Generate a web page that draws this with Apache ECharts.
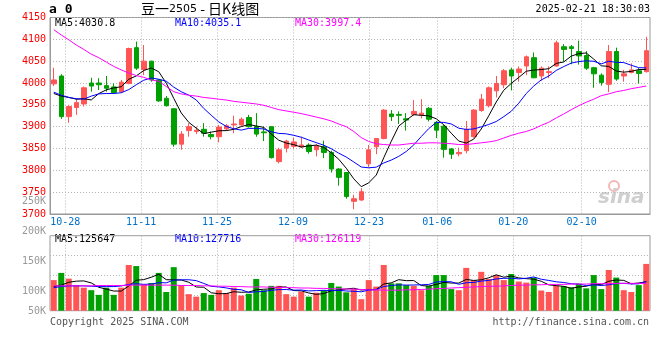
<!DOCTYPE html>
<html><head><meta charset="utf-8">
<script src="https://cdn.jsdelivr.net/npm/echarts@6/dist/echarts.min.js"></script>
<style>html,body{margin:0;padding:0;background:#fff}#c{width:660px;height:360px}</style>
</head><body><div id="c"></div>
<script>
const dates = ['10-24','10-25','10-28','10-29','10-30','10-31','11-01','11-04','11-05','11-06','11-07','11-08','11-11','11-12','11-13','11-14','11-15','11-18','11-19','11-20','11-21','11-22','11-25','11-26','11-27','11-28','11-29','12-02','12-03','12-04','12-05','12-06','12-09','12-10','12-11','12-12','12-13','12-16','12-17','12-18','12-19','12-20','12-23','12-24','12-25','12-26','12-27','12-30','12-31','01-02','01-03','01-06','01-07','01-08','01-09','01-10','01-13','01-14','01-15','01-16','01-17','01-20','01-21','01-22','01-23','01-24','01-27','02-05','02-06','02-07','02-10','02-11','02-12','02-13','02-14','02-17','02-18','02-19','02-20','02-21'];
const labelDates = ['10-28','11-11','11-25','12-09','12-23','01-06','01-20','02-10'];

const opens = [3998,4016,3923,3944,3952,4000,4000,3994,3991,3980, 3999,4081,4031,4050,4007,3965,3941,3860,3891,3889, 3894,3882,3877,3895,3904,3904,3921,3900,3888,3900, 3820,3851,3855,3854,3858,3847,3854,3841,3803,3795, 3729,3732,3815,3854,3873,3929,3928,3918,3928,3927, 3942,3910,3901,3849,3838,3845,3877,3937,3948,3982, 3996,4030,4024,4039,4058,4016,4024,4039,4083,4083, 4072,4063,4035,4018,3997,4072,4016,4024,4028,4026];
const closes = [4007,3923,3946,3955,3989,3993,3996,3988,3978,4002, 4079,4034,4050,4007,3959,3948,3860,3883,3900,3892, 3885,3877,3899,3902,3906,3917,3900,3883,3886,3829, 3847,3867,3865,3858,3843,3856,3841,3803,3784,3740, 3735,3751,3847,3873,3938,3923,3926,3915,3935,3931, 3917,3892,3848,3837,3841,3894,3938,3963,3989,3999, 4028,4016,4032,4060,4012,4034,4026,4092,4077,4079, 4062,4034,4021,4001,4072,4009,4021,4030,4022,4074];
const lows = [3993,3918,3909,3927,3946,3980,3984,3980,3976,3977, 3997,4030,4018,4003,3957,3946,3854,3847,3877,3883, 3877,3871,3864,3890,3885,3902,3898,3877,3867,3827, 3816,3841,3850,3851,3838,3832,3828,3795,3765,3735, 3711,3730,3807,3837,3871,3913,3906,3891,3925,3919, 3912,3874,3829,3826,3832,3839,3875,3934,3944,3967, 3988,3983,4003,4018,4011,4005,4011,4037,4049,4043, 4042,4030,3989,3994,3979,4005,4003,4022,3999,4024];
const highs = [4035,4020,3950,3965,3992,4012,4011,4016,3999,4007, 4081,4095,4087,4051,4009,3970,3942,3890,3908,3900, 3908,3889,3904,3906,3925,3921,3927,3931,3900,3901, 3852,3870,3875,3877,3862,3860,3868,3845,3805,3796, 3744,3759,3858,3874,3940,3938,3935,3931,3961,3963, 3945,3913,3904,3851,3852,3913,3940,3975,3992,4016, 4032,4035,4038,4063,4070,4038,4038,4097,4089,4087, 4097,4073,4037,4022,4087,4081,4030,4045,4034,4106];

const ma5 = [3976,3970,3967,3963,3964.0,3961.2,3975.8,3984.2,3988.8,3991.4, 4008.6,4016.2,4028.6,4034.4,4025.8,3999.6,3964.8,3931.4,3910.0,3896.6, 3884.0,3887.4,3890.6,3891.0,3893.8,3900.2,3904.8,3901.6,3898.4,3883.0, 3869.0,3862.4,3858.8,3853.2,3856.0,3857.8,3852.6,3840.2,3825.4,3804.8, 3780.6,3762.6,3771.4,3789.2,3828.8,3866.4,3901.4,3915.0,3927.4,3926.0, 3924.8,3918.0,3904.6,3885.0,3867.0,3862.4,3871.6,3894.6,3925.0,3956.6, 3983.4,3999.0,4012.8,4027.0,4029.6,4030.8,4032.8,4044.8,4048.2,4061.6, 4067.2,4068.8,4054.6,4039.4,4038.0,4027.4,4024.8,4026.6,4030.8,4031.2];
const ma10 = [3979,3972,3967,3964,3963,3970,3975,3976,3976,3977.7, 3984.9,3996.0,4006.4,4011.6,4008.6,4004.1,3990.5,3980.0,3972.2,3961.2, 3941.8,3926.1,3911.0,3900.5,3895.2,3892.1,3896.1,3896.1,3894.7,3888.4, 3884.6,3883.6,3880.2,3875.8,3869.5,3863.4,3857.5,3849.5,3839.3,3830.4, 3819.2,3807.6,3805.8,3807.3,3816.8,3823.5,3832.0,3843.2,3858.3,3877.4, 3895.6,3909.7,3909.8,3906.2,3896.5,3893.6,3894.8,3899.6,3905.0,3911.8, 3922.9,3935.3,3953.7,3976.0,3993.1,4007.1,4015.9,4028.8,4037.6,4045.6, 4049.0,4050.8,4049.7,4043.8,4049.8,4047.3,4046.8,4040.6,4035.1,4034.6];
const ma30 = [4122,4110,4099,4087,4077,4066,4058,4048,4038,4030, 4023,4017,4013,4007,4004,3992,3980,3975,3972,3970, 3967,3965,3963,3961,3958,3956,3954,3952,3949,3944, 3939,3936,3933,3930,3926,3922,3918,3913,3906,3900, 3889,3875,3866,3861,3859,3858,3858,3860,3862,3862, 3863,3863,3862,3861,3859,3859,3861,3863,3865,3868, 3874,3880,3885,3889,3895,3903,3910,3920,3929,3939, 3948,3956,3963,3971,3975,3980,3983,3987,3990,3993];

const volumesK = [135,155,139,121,114,107,94,114,94,114, 177,174,123,127,155,102,171,121,96,89, 99,94,107,99,114,92,97,138,107,119, 119,96,89,103,89,100,107,127,117,101, 110,82,135,117,177,126,126,121,119,107, 119,149,149,110,107,169,135,158,138,149, 135,152,131,128,142,106,102,120,118,115, 125,112,149,110,163,142,107,102,121,180];
const volMa5K = [117,121,129,132,132.8,127.2,115.0,110.0,104.6,104.6, 118.6,134.6,136.4,143.0,151.2,136.2,135.6,135.2,129.0,115.8, 115.2,99.8,97.0,97.6,102.6,101.2,101.8,108.0,109.6,110.6, 116.0,115.8,106.0,105.2,99.2,95.4,97.6,105.2,108.0,110.4, 112.4,107.4,109.0,109.0,124.2,127.4,136.2,133.4,133.8,119.8, 118.4,123.0,128.6,126.8,126.8,136.8,134.0,135.8,141.4,149.8, 143.0,146.4,141.0,139.0,137.6,131.8,121.8,119.6,117.6,112.2, 116.0,118.0,123.8,122.2,131.8,135.2,134.2,124.8,127.0,130.4];
const volMa10K = [114,117,119,119,119,118,117,117,117,118.7, 122.9,124.8,123.2,123.8,127.9,127.4,135.1,135.8,136.0,133.5, 125.7,117.7,116.1,113.3,109.2,108.2,100.8,102.5,103.6,106.6, 108.6,108.8,107.0,107.4,104.9,105.7,106.7,105.6,106.6,104.8, 103.9,102.5,107.1,108.5,117.3,119.9,121.8,121.2,121.4,122.0, 122.9,129.6,131.0,130.3,123.3,127.6,128.5,132.2,134.1,138.3, 139.9,140.2,138.4,140.2,143.7,137.4,134.1,130.3,128.3,124.9, 123.9,119.9,121.7,119.9,122.0,125.6,126.1,124.3,124.6,131.1];
const volMa30K = [119,119,119,119,119,119,120,120,120,120, 121,121,121,121,121,121,121,120,120,120, 119,119,118,118,117,117,116,116,116,115, 115,114,114,113,113,112,112,111,111,110, 110,109,108,108,107,107,107,108,108,109, 110,111,112,113,114,115,116,117,118,118, 119,120,121,121,122,122,123,123,123,124, 124,124,125,125,125,126,126,126,126,126];

const priceLegend = ['MA5:4030.8','MA10:4035.1','MA30:3997.4'];
const volLegend = ['MA5:125647','MA10:127716','MA30:126119'];
const titleParts = ['豆一','2505',' - 日K线图'];
const timeText = '2025-02-21 18:30:03';

const UP = '#ff5555', DOWN = '#00a000';
const mono = '"DejaVu Sans Mono", monospace';
const dotted = {color:'#b4b4b4', type:[1,2], width:1};
const pickDate = (i, v) => labelDates.indexOf(v) >= 0;

const chart = echarts.init(document.getElementById('c'), null, {renderer:'canvas'});
const candleData = dates.map((d,i)=>[opens[i],closes[i],lows[i],highs[i]]);
const volData = volumesK.map((v,i)=>({value:v, itemStyle:{color: closes[i] >= opens[i] ? UP : DOWN}}));

const legendText = (arr, top) => [
  {type:'text', left:55, top:top, style:{text:arr[0], font:'10px '+mono, fill:'#000'}},
  {type:'text', left:175, top:top, style:{text:arr[1], font:'10px '+mono, fill:'#0000ff'}},
  {type:'text', left:295, top:top, style:{text:arr[2], font:'10px '+mono, fill:'#ff00ff'}}
];

chart.setOption({
  animation:false,
  backgroundColor:'#fff',
  grid:[
    {left:50, right:10, top:17.5, height:196.5, show:true, borderColor:'#999', borderWidth:1},
    {left:50, right:10, top:235.7, height:75, show:true, borderColor:'#999', borderWidth:1},
    {left:50, right:10, top:201, height:120, show:false}
  ],
  xAxis:[
    {gridIndex:0, type:'category', data:dates, boundaryGap:true, show:false, position:'bottom'},
    {gridIndex:0, type:'category', data:dates, boundaryGap:false, position:'bottom',
      axisLine:{show:true, lineStyle:{color:'#999'}}, axisTick:{show:false},
      axisLabel:{interval:pickDate, color:'#0070c8', fontFamily:mono, fontSize:10, margin:3},
      splitLine:{show:true, interval:pickDate, lineStyle:dotted}},
    {gridIndex:1, type:'category', data:dates, boundaryGap:true, show:false, position:'bottom'},
    {gridIndex:1, type:'category', data:dates, boundaryGap:false, position:'bottom',
      axisLine:{show:false}, axisTick:{show:false}, axisLabel:{show:false},
      splitLine:{show:true, interval:pickDate, lineStyle:dotted}},
    {gridIndex:2, type:'value', min:0, max:1, show:false}
  ],
  yAxis:[
    {gridIndex:0, type:'value', min:3700, max:4150, interval:50, position:'left',
      axisLine:{show:true, lineStyle:{color:'#999'}}, axisTick:{show:false},
      axisLabel:{color:'#ff0000', fontFamily:mono, fontSize:10, margin:4, formatter: v => String(v)},
      splitLine:{show:true, lineStyle:dotted}},
    {gridIndex:1, type:'value', min:50, max:258.33, position:'left', show:false, splitLine:{show:false}},
    {gridIndex:1, type:'value', min:0, max:75, interval:20, inverse:true, position:'left',
      axisLine:{show:false}, axisTick:{show:false}, axisLabel:{show:false},
      splitLine:{show:true, lineStyle:dotted}},
    {gridIndex:2, type:'value', min:50, max:250, interval:50, position:'left',
      axisLine:{show:false}, axisTick:{show:false}, splitLine:{show:false},
      axisLabel:{color:'#999', fontFamily:mono, fontSize:10, margin:4,
        formatter: v => v === 50 ? '{low|50K}' : v + 'K',
        rich:{low:{color:'#999', fontFamily:mono, fontSize:10, padding:[0,0,20,0]}}}}
  ],
  series:[
    {type:'candlestick', xAxisIndex:0, yAxisIndex:0, data:candleData, barWidth:5,
      itemStyle:{color:UP, color0:DOWN, borderColor:UP, borderColor0:DOWN, borderWidth:1}},
    {type:'line', xAxisIndex:0, yAxisIndex:0, data:ma5, symbol:'none', lineStyle:{color:'#000', width:1}},
    {type:'line', xAxisIndex:0, yAxisIndex:0, data:ma10, symbol:'none', lineStyle:{color:'#0000ff', width:1}},
    {type:'line', xAxisIndex:0, yAxisIndex:0, data:ma30, symbol:'none', lineStyle:{color:'#ff00ff', width:1}},
    {type:'bar', xAxisIndex:2, yAxisIndex:1, data:volData, barWidth:6},
    {type:'line', xAxisIndex:2, yAxisIndex:1, data:volMa5K, symbol:'none', lineStyle:{color:'#000', width:1}},
    {type:'line', xAxisIndex:2, yAxisIndex:1, data:volMa10K, symbol:'none', lineStyle:{color:'#0000ff', width:1}},
    {type:'line', xAxisIndex:2, yAxisIndex:1, data:volMa30K, symbol:'none', lineStyle:{color:'#ff00ff', width:1}}
  ],
  graphic:[
    {type:'text', left:49, top:3, style:{text:'a 0', font:'bold 13px '+mono, fill:'#000'}},
    {type:'text', left:141, top:2, style:{
      text:'{a|'+titleParts[0]+'}{b|'+titleParts[1]+'}{a|'+titleParts[2]+'}',
      rich:{a:{fontFamily:'"Noto Sans CJK SC"', fontSize:14, fill:'#000', color:'#000'},
            b:{fontFamily:'"DejaVu Sans"', fontSize:11, color:'#333'}}}},
    {type:'text', right:10, top:4, style:{text:timeText, font:'10px '+mono, fill:'#000'}},
    ...legendText(priceLegend, 18),
    ...legendText(volLegend, 234),
    {type:'text', left:50, top:317, style:{text:'Copyright 2025 SINA.COM', font:'10px '+mono, fill:'#555'}},
    {type:'text', right:11, top:317, style:{text:'http://finance.sina.com.cn', font:'10px '+mono, fill:'#555'}},
    {type:'circle', shape:{cx:614, cy:186, r:5}, style:{fill:'none', stroke:'#f2b8b8', lineWidth:2}},
    {type:'text', left:598, top:188, style:{text:'sina', font:'italic bold 20px "DejaVu Sans"', fill:'#cfcfcf'}}
  ]
});
</script>
</body></html>
